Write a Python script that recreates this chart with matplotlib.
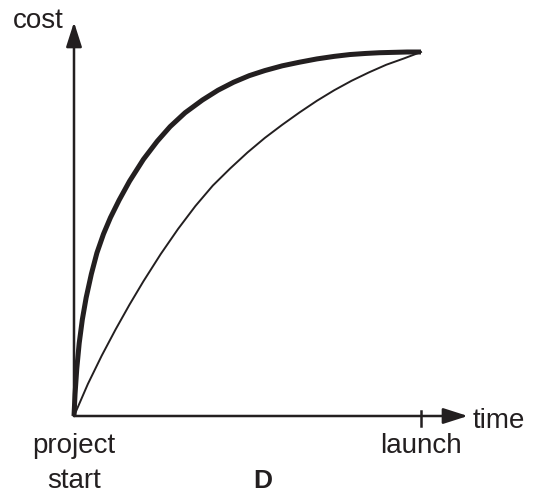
import matplotlib
matplotlib.use("Agg")
import matplotlib.pyplot as plt

# time runs from project start (0) to launch (1), cost from 0 to 1
thick_t = [0, 0.003, 0.008, 0.015, 0.024, 0.035, 0.05, 0.066, 0.085, 0.105, 0.13, 0.16, 0.2, 0.24,
           0.277, 0.32, 0.37, 0.415, 0.46, 0.505, 0.55, 0.6, 0.65, 0.7, 0.75, 0.795, 0.84, 0.88,
           0.92, 0.96, 1.0]
thick_c = [0, 0.06, 0.13, 0.2, 0.265, 0.325, 0.39, 0.448, 0.5, 0.545, 0.593, 0.645, 0.705, 0.755,
           0.795, 0.833, 0.868, 0.895, 0.917, 0.935, 0.949, 0.962, 0.972, 0.981, 0.988, 0.993,
           0.996, 0.998, 0.999, 1.0, 1.0]

thin_t = [0, 0.04, 0.08, 0.12, 0.16, 0.2, 0.25, 0.3, 0.35, 0.4, 0.45, 0.5, 0.55, 0.6, 0.65,
          0.7, 0.75, 0.8, 0.85, 0.9, 0.95, 1.0]
thin_c = [0, 0.088, 0.166, 0.238, 0.306, 0.37, 0.445, 0.514, 0.577, 0.633, 0.68, 0.724, 0.764,
          0.8, 0.834, 0.866, 0.895, 0.921, 0.944, 0.965, 0.982, 1.0]

ink = "#231f20"
plt.rcParams['font.family'] = ['Liberation Sans', 'DejaVu Sans']

W, H = 536, 495
fig = plt.figure(figsize=(W / 100, H / 100), dpi=100)
ax = fig.add_axes([74 / W, (H - 416) / H, 347 / W, 364 / H])
ax.set_xlim(0, 1)
ax.set_ylim(0, 1)
ax.axis('off')

ax.plot(thin_t, thin_c, color=ink, lw=1.4, clip_on=False)
ax.plot(thick_t, thick_c, color=ink, lw=3.6, solid_capstyle='butt', clip_on=False)

arrow = dict(arrowstyle='-|>,head_length=0.75,head_width=0.24', lw=1.8,
             color=ink, mutation_scale=20, shrinkA=0, shrinkB=0)
ax.annotate('', xy=(0, 1.082), xytext=(0, 0), arrowprops=arrow, annotation_clip=False)
ax.annotate('', xy=(1.135, 0), xytext=(0, 0), arrowprops=arrow, annotation_clip=False)

# launch tick
ax.plot([1.0, 1.0], [0.014, -0.027], color=ink, lw=1.8, clip_on=False)

def ftext(x, y, s, size=20, **kw):
    fig.text(x / W, 1 - y / H, s, fontsize=size, color=ink, va='baseline', **kw)

ftext(64, 28, 'cost', ha='right')
ftext(473, 428, 'time', ha='left')
ftext(74, 453, 'project', ha='center')
ftext(74, 488, 'start', ha='center')
ftext(421, 453, 'launch', ha='center')
ftext(263, 488, 'D', size=19, ha='center', fontweight='bold')

fig.savefig('out.png', dpi=100)
